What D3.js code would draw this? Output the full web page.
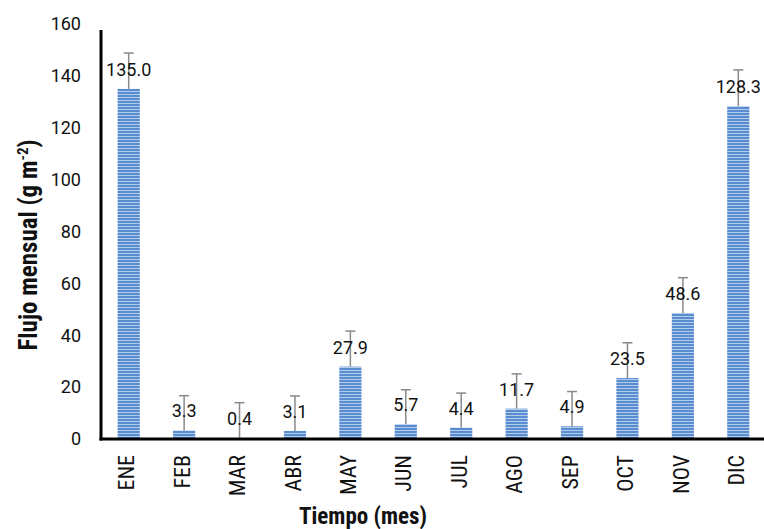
<!DOCTYPE html>
<html><head><meta charset="utf-8">
<script src="https://cdn.jsdelivr.net/npm/d3@7"></script>
<style>body{margin:0;background:#fff}</style>
</head><body>
<svg id="c" width="764" height="529"></svg>
<script>
const months = ["ENE","FEB","MAR","ABR","MAY","JUN","JUL","AGO","SEP","OCT","NOV","DIC"];
const values = [135.0,3.3,0.4,3.1,27.9,5.7,4.4,11.7,4.9,23.5,48.6,128.3];
const errors = [13.8,13.4,13.6,13.5,13.7,13.3,13.3,13.4,13.4,13.6,13.6,14.0];
const yTicks = [0,20,40,60,80,100,120,140,160];

const svg = d3.select("#c");
const narrow = "'Liberation Sans Narrow','Roboto Condensed',Roboto,sans-serif";
const num = "Roboto,'Liberation Sans',sans-serif";

const defs = svg.append("defs");
const pat = defs.append("pattern").attr("id","stripe").attr("patternUnits","userSpaceOnUse")
  .attr("width",4).attr("height",3);
pat.append("rect").attr("width",4).attr("height",3).attr("fill","#5a8dcf");
pat.append("rect").attr("y",1).attr("width",4).attr("height",1).attr("fill","#b4cceb");

const x = d3.scaleBand().domain(months).range([101,766]).paddingInner(0.6).paddingOuter(0.3);
const y = d3.scaleLinear().domain([0,160]).range([439,24]);

// bars
svg.selectAll("rect.bar").data(values).join("rect").attr("class","bar")
  .attr("x",(d,i)=>x(months[i])).attr("width",x.bandwidth())
  .attr("y",d=>y(d)).attr("height",d=>y(0)-y(d)).attr("fill","url(#stripe)");

// error bars
const eb = svg.append("g").attr("stroke","#8a8a8a").attr("stroke-width",1.5);
values.forEach((v,i)=>{
  const cx = x(months[i])+x.bandwidth()/2;
  eb.append("line").attr("x1",cx).attr("x2",cx).attr("y1",y(v)).attr("y2",y(v+errors[i]));
  eb.append("line").attr("x1",cx-5).attr("x2",cx+5).attr("y1",y(v+errors[i])).attr("y2",y(v+errors[i]));
});

// value labels
svg.selectAll("text.val").data(values).join("text").attr("class","val")
  .attr("x",(d,i)=>x(months[i])+x.bandwidth()/2).attr("y",d=>y(d)-13)
  .attr("text-anchor","middle").attr("font-family",num).attr("font-size",18).attr("fill","#111")
  .text(d=>d.toFixed(1));

// y axis
const ya = svg.append("g").attr("transform","translate(101,0)")
  .call(d3.axisLeft(y).tickValues(yTicks).tickSize(0).tickPadding(20));
ya.select(".domain").remove();
ya.selectAll("text").attr("font-family",num).attr("font-size",18).attr("fill","#111");
svg.append("line").attr("x1",101).attr("x2",101).attr("y1",30).attr("y2",440.5)
  .attr("stroke","#000").attr("stroke-width",3);

// x axis
const xa = svg.append("g").attr("transform","translate(0,439)")
  .call(d3.axisBottom(x).tickSize(0));
xa.select(".domain").remove();
xa.selectAll("text").attr("font-family",narrow).attr("font-size",22).attr("fill","#111")
  .attr("transform","rotate(-90)").attr("text-anchor","end")
  .attr("x",-16).attr("y",-2).attr("dy","0.35em");
svg.append("line").attr("x1",99.5).attr("x2",764).attr("y1",439).attr("y2",439)
  .attr("stroke","#000").attr("stroke-width",3);

// titles
svg.append("text").attr("x",363).attr("y",524).attr("text-anchor","middle")
  .attr("font-family",narrow).attr("font-weight","bold").attr("font-size",23).attr("fill","#111")
  .text("Tiempo (mes)");
const yt = svg.append("text").attr("transform","translate(37,245) rotate(-90)").attr("text-anchor","middle")
  .attr("font-family",narrow).attr("font-weight","bold").attr("font-size",25).attr("fill","#111");
yt.append("tspan").text("Flujo mensual (g m");
yt.append("tspan").attr("font-size",15).attr("dy",-9).text("-2");
yt.append("tspan").attr("dy",9).text(")");
</script>
</body></html>
